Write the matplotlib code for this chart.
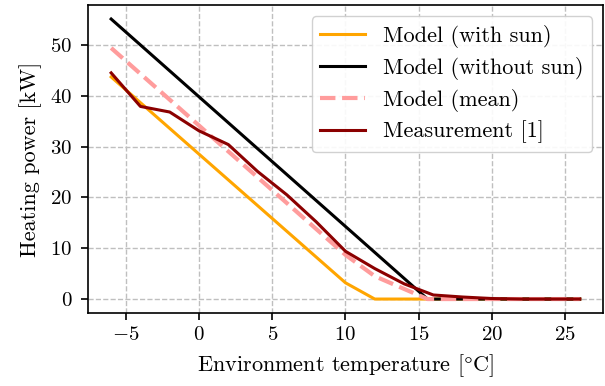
import numpy as np
import matplotlib
matplotlib.use("Agg")
import matplotlib.pyplot as plt

plt.rcParams['font.family'] = ['cmr10', 'DejaVu Serif']
plt.rcParams['mathtext.fontset'] = 'cm'
plt.rcParams['axes.formatter.use_mathtext'] = True
plt.rcParams['font.size'] = 15

# model with sun
t_sun = [-6, 10, 12, 26]
p_sun = [43.7, 3.2, 0.0, 0.0]

# model without sun
t_nosun = [-6, 15.6, 26]
p_nosun = [55.1, 0.0, 0.0]

# model mean
t_mean = [-6, 10, 12, 15.6, 26]
p_mean = [49.4, 8.7, 4.5, 0.0, 0.0]

# measurement
t_meas = [-6, -4, -2, 0, 2, 4, 6, 8, 10, 12, 14, 16, 18, 20, 22, 24, 26]
p_meas = [44.5, 37.9, 36.8, 33.1, 30.4, 25.1, 20.5, 15.2, 9.4, 6.0, 3.0, 0.8, 0.4, 0.1, 0.0, 0.0, 0.0]

fig, ax = plt.subplots(figsize=(6.05, 3.86), dpi=100)
fig.subplots_adjust(left=0.145, right=0.997, top=0.987, bottom=0.189)

ax.plot(t_sun, p_sun, color='orange', lw=2.2, label='Model (with sun)')
ax.plot(t_nosun, p_nosun, color='black', lw=2.2, label='Model (without sun)')
ax.plot(t_mean, p_mean, color='#ff9c9c', lw=3, ls='--', label='Model (mean)')
ax.plot(t_meas, p_meas, color='darkred', lw=2.2, label='Measurement [1]')

ax.grid(True, ls='--', color='0.75', lw=1)
ax.set_axisbelow(True)
ax.tick_params(direction='out', length=5, width=1.2)
ax.tick_params(axis='x', pad=4)
ax.tick_params(axis='y', pad=6)
for s in ax.spines.values():
    s.set_linewidth(1.2)

ax.set_xlabel(r'Environment temperature [$\degree$C]', fontsize=16, labelpad=6)
ax.set_ylabel('Heating power [kW]', fontsize=16, labelpad=6)
ax.set_xticks([-5, 0, 5, 10, 15, 20, 25])
ax.set_yticks([0, 10, 20, 30, 40, 50])

ax.legend(loc='upper right', fontsize=16, labelspacing=0.4, framealpha=0.9,
          edgecolor='0.8', fancybox=True)

fig.savefig('out.png', dpi=100)
